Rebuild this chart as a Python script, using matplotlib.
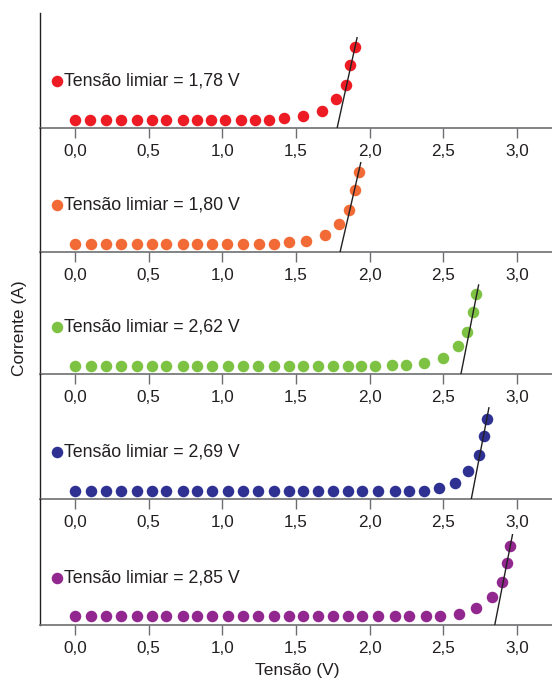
import matplotlib.pyplot as plt

plt.rcParams['font.family'] = ['Liberation Sans', 'DejaVu Sans']

# tensão (V) e corrente (unidades arbitrárias)
v_red = [0.00, 0.10, 0.21, 0.31, 0.42, 0.52, 0.62, 0.73, 0.83, 0.92, 1.02, 1.13, 1.22, 1.32,
         1.42, 1.55, 1.68, 1.77, 1.84, 1.87, 1.90]
i_red = [7.7] * 14 + [9.5, 11.5, 17, 29, 43, 63, 81]

v_orange = [0.00, 0.11, 0.21, 0.31, 0.42, 0.52, 0.62, 0.73, 0.83, 0.93, 1.03, 1.14, 1.25,
            1.35, 1.45, 1.57, 1.70, 1.79, 1.86, 1.90, 1.93]
i_orange = [7.5] * 13 + [8, 9.5, 11, 16.5, 28, 42, 62, 80]

v_green = [0.00, 0.11, 0.21, 0.31, 0.42, 0.52, 0.62, 0.73, 0.83, 0.93, 1.04, 1.14, 1.24, 1.35,
           1.45, 1.55, 1.65, 1.75, 1.85, 1.94, 2.04, 2.15, 2.25, 2.37, 2.50, 2.60, 2.66, 2.70, 2.72]
i_green = [8] * 21 + [9, 9.5, 11, 16, 28, 42, 62, 80]

v_blue = [0.00, 0.11, 0.21, 0.31, 0.42, 0.52, 0.62, 0.73, 0.83, 0.93, 1.04, 1.14, 1.24, 1.35,
          1.45, 1.55, 1.65, 1.75, 1.85, 1.95, 2.06, 2.17, 2.27, 2.37, 2.47, 2.58, 2.67, 2.745,
          2.775, 2.80]
i_blue = [8.5] * 24 + [11.5, 16.5, 28.5, 44, 63, 80]

v_purple = [0.00, 0.11, 0.21, 0.31, 0.42, 0.52, 0.62, 0.73, 0.83, 0.93, 1.04, 1.14, 1.24, 1.35,
            1.45, 1.55, 1.65, 1.75, 1.85, 1.95, 2.06, 2.17, 2.27, 2.38, 2.48, 2.61, 2.72, 2.83,
            2.90, 2.93, 2.95]
i_purple = [8.5] * 24 + [9, 11, 16.5, 28, 43, 61.5, 79]

thresholds = [1.78, 1.80, 2.62, 2.69, 2.85]
line_top_v = [1.915, 1.94, 2.74, 2.81, 2.97]
line_top_i = [90, 89, 89, 91.5, 90]

series = [(v_red, i_red), (v_orange, i_orange), (v_green, i_green),
          (v_blue, i_blue), (v_purple, i_purple)]
colors = ['#ED1C24', '#F26B36', '#7DC242', '#2E3192', '#92278F']
tick_vals = [0.0, 0.5, 1.0, 1.5, 2.0, 2.5, 3.0]
tick_labels = ['0,0', '0,5', '1,0', '1,5', '2,0', '2,5', '3,0']

W, H = 552, 681
fig = plt.figure(figsize=(W / 100, H / 100), dpi=100)

# limites verticais de cada painel em pixels (topo, base)
tops = [13, 127.7, 251.7, 374, 499.3]
bases = [127.7, 251.7, 374, 499.3, 624.7]
x0_px, px_per_v = 75, 147.3
xmin = (40 - x0_px) / px_per_v
xmax = (W - x0_px) / px_per_v

for k, ((v, cur), col) in enumerate(zip(series, colors)):
    top, base = tops[k], bases[k]
    ax = fig.add_axes([40 / W, 1 - base / H, 1 - 40 / W, (base - top) / H])
    ax.patch.set_visible(False)
    ax.set_xlim(xmin, xmax)
    ax.set_ylim(0, base - top)
    ax.plot(v, cur, 'o', color=col, ms=8.3, mec='none', clip_on=False, zorder=3)
    ax.plot([thresholds[k], line_top_v[k]], [0, line_top_i[k]], color='#231F20', lw=1, zorder=4)
    ax.plot([-0.122], [47], 'o', color=col, ms=8.3, mec='none', clip_on=False)
    ax.text(-0.076, 47, 'Tensão limiar = ' + f'{thresholds[k]:.2f}'.replace('.', ',') + ' V',
            fontsize=12.8, va='center', ha='left', color='#231F20')
    for s in ['top', 'right']:
        ax.spines[s].set_visible(False)
    ax.spines['bottom'].set_color('#6D6E71')
    ax.spines['bottom'].set_linewidth(1.2)
    ax.spines['left'].set_color('#231F20')
    ax.spines['left'].set_linewidth(1.0)
    ax.set_yticks([])
    ax.set_xticks(tick_vals)
    ax.set_xticklabels(tick_labels)
    ax.tick_params(axis='x', direction='out', length=7.5, width=1, color='#6D6E71',
                   labelsize=12.3, pad=4, labelcolor='#231F20')

fig.text(20 / W, 1 - 328 / H, 'Corrente (A)', rotation=90, fontsize=12.5,
         ha='center', va='center', color='#231F20')
fig.text(297 / W, 1 - 671 / H, 'Tensão (V)', fontsize=12.5,
         ha='center', va='center', color='#231F20')

fig.savefig('out.png', dpi=100)
